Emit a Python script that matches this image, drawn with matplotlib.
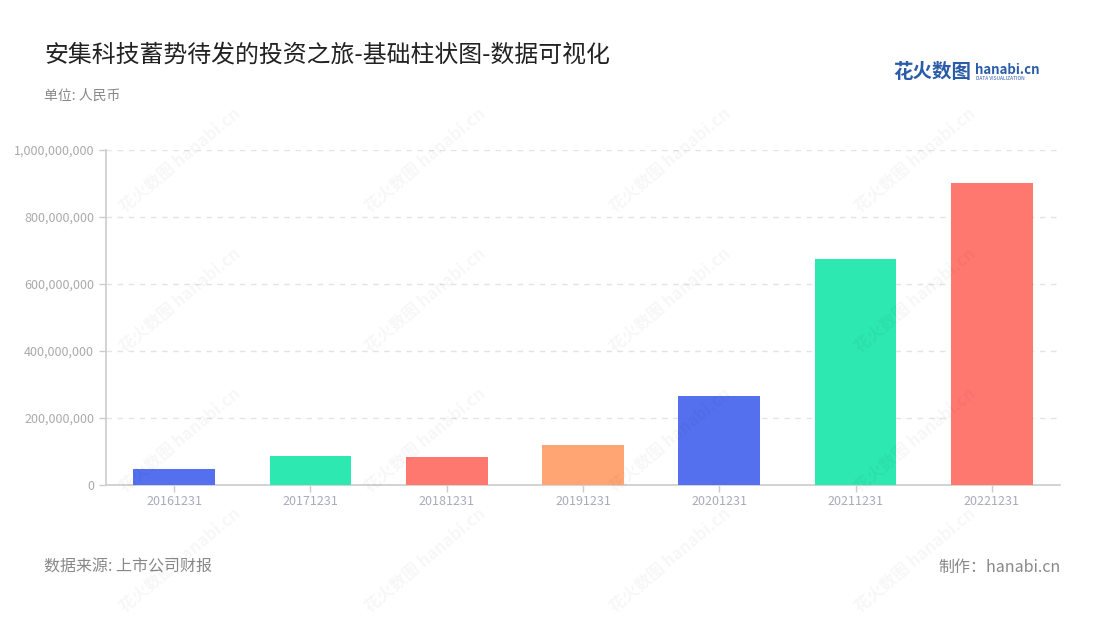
import matplotlib
matplotlib.use("Agg")
import matplotlib.pyplot as plt
from matplotlib.ticker import FuncFormatter, MultipleLocator

plt.rcParams['font.family'] = ['Noto Sans CJK SC', 'DejaVu Sans']

categories = ["20161231", "20171231", "20181231", "20191231", "20201231", "20211231", "20221231"]
values = [49e6, 88e6, 84e6, 118e6, 266e6, 676e6, 902e6]
palette = ["#5470ee", "#2de8b0", "#ff7870", "#ffa574"]
bar_colors = [palette[i % 4] for i in range(len(categories))]

title = "安集科技蓄势待发的投资之旅-基础柱状图-数据可视化"
unit = "单位: 人民币"
source = "数据来源: 上市公司财报"
maker = "制作：hanabi.cn"

fig = plt.figure(figsize=(11, 6.2), dpi=100)
ax = fig.add_axes([106/1100, 135/620, 954/1100, 335/620])

x = range(len(categories))
ax.bar(x, values, width=0.6, color=bar_colors, zorder=3)
ax.set_xlim(-0.5, len(categories) - 0.5)
ax.set_ylim(0, 1e9)
ax.yaxis.set_major_locator(MultipleLocator(2e8))
ax.yaxis.set_major_formatter(FuncFormatter(lambda v, p: f"{int(v):,}"))
ax.set_xticks(list(x))
ax.set_xticklabels(categories)

ax.grid(axis='y', color='#e3e3e3', linestyle=(0, (4, 4)), linewidth=1, zorder=0)
for s in ['top', 'right']:
    ax.spines[s].set_visible(False)
for s in ['left', 'bottom']:
    ax.spines[s].set_color('#cccccc')
    ax.spines[s].set_linewidth(1.2)
ax.tick_params(axis='y', colors='#cccccc', labelcolor='#aaaaaa', labelsize=9, length=5, width=1)
ax.tick_params(axis='x', colors='#cccccc', labelcolor='#a8abbb', labelsize=9, length=5, width=1, pad=2.5)

# Titles
fig.text(44/1100, 1 - 55/620, title, fontsize=17.2, color='#222222', va='center', ha='left')
fig.text(44/1100, 1 - 96/620, unit, fontsize=10, color='#888888', va='center', ha='left')
fig.text(44/1100, 1 - 567/620, source, fontsize=11.5, color='#888888', va='center', ha='left')
fig.text(1061/1100, 1 - 567/620, maker, fontsize=11.5, color='#888888', va='center', ha='right')

# Logo
fig.text(893/1100, 1 - 73/620, "花火数图", fontsize=14, color='#2b5ca8', va='center', ha='left', fontweight='bold')
fig.text(975/1100, 1 - 70/620, "hanabi.cn", fontsize=9.5, color='#2b5ca8', va='center', ha='left', fontweight='bold')
fig.text(976/1100, 1 - 79/620, "DATA VISUALIZATION", fontsize=3.5, color='#2b5ca8', va='center', ha='left')

# Faint watermarks
for wx in [180, 425, 670, 915]:
    for wy in [160, 300, 440, 560]:
        fig.text(wx/1100, 1 - wy/620, "花火数图 hanabi.cn", fontsize=12, color='#000000', alpha=0.035,
                 rotation=40, va='center', ha='center', fontweight='bold')

fig.savefig("out.png", dpi=100, facecolor='white')
